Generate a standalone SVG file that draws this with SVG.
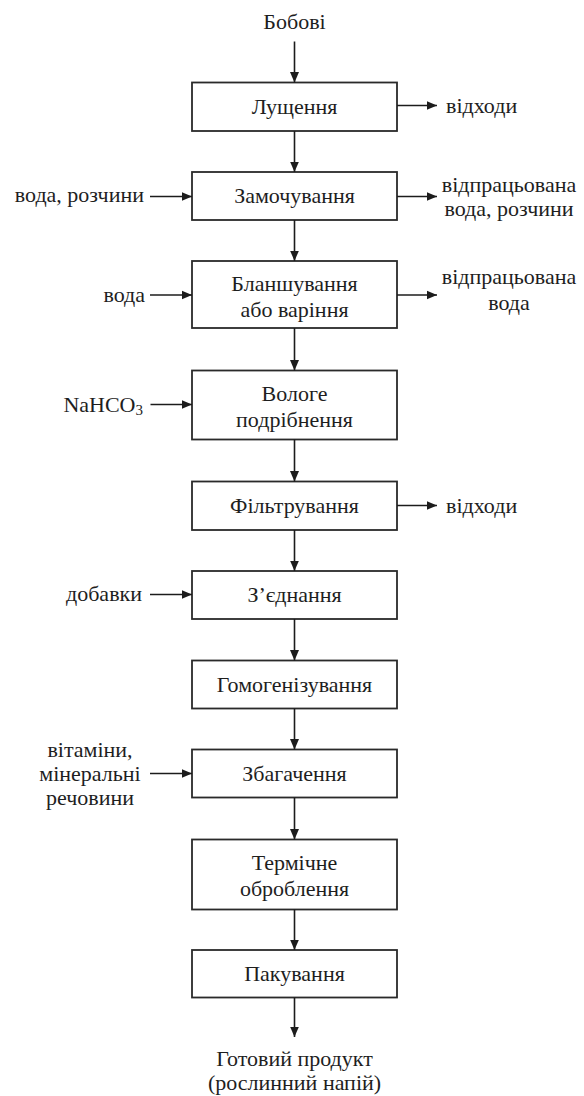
<svg xmlns="http://www.w3.org/2000/svg" width="584" height="1096" viewBox="0 0 584 1096">
  <defs>
    <marker id="arrow" markerUnits="userSpaceOnUse" markerWidth="11" markerHeight="10" refX="10.5" refY="5" orient="auto">
      <path d="M0,0.5 L10.5,5 L0,9.5 z" fill="#1c1c1c"/>
    </marker>
    <style>
      .box { fill: #ffffff; stroke: #2a2a2a; stroke-width: 1.8; }
      .t { font-family: "Liberation Serif", "Times New Roman", serif; font-size: 22px; fill: #1e1e1e; }
      .c { text-anchor: middle; }
      .e { text-anchor: end; }
      .s { text-anchor: start; }
      .flow line { stroke: #1c1c1c; stroke-width: 1.6; marker-end: url(#arrow); }
    </style>
  </defs>
  <rect width="584" height="1096" fill="#ffffff"/>

  <!-- process steps -->
  <g id="step-lushchennia">
    <rect class="box" x="192" y="82.5" width="205" height="48.5"/>
    <text class="t c" x="294.5" y="113.5">Лущення</text>
  </g>
  <g id="step-zamochuvannia">
    <rect class="box" x="192" y="172" width="205" height="48"/>
    <text class="t c" x="294.5" y="203">Замочування</text>
  </g>
  <g id="step-blanshuvannia">
    <rect class="box" x="192" y="261" width="205" height="67"/>
    <text class="t c" x="294.5" y="290.5">Бланшування</text>
    <text class="t c" x="294.5" y="317">або варіння</text>
  </g>
  <g id="step-volohe">
    <rect class="box" x="192" y="370.5" width="205" height="69"/>
    <text class="t c" x="294.5" y="400.5">Вологе</text>
    <text class="t c" x="294.5" y="426.5">подрібнення</text>
  </g>
  <g id="step-filtruvannia">
    <rect class="box" x="192" y="481.5" width="205" height="48.5"/>
    <text class="t c" x="294.5" y="512.5">Фільтрування</text>
  </g>
  <g id="step-ziednannia">
    <rect class="box" x="192" y="571" width="205" height="48"/>
    <text class="t c" x="294.5" y="602">З’єднання</text>
  </g>
  <g id="step-homohenizuvannia">
    <rect class="box" x="192" y="660.5" width="205" height="48"/>
    <text class="t c" x="294.5" y="691.5">Гомогенізування</text>
  </g>
  <g id="step-zbahachennia">
    <rect class="box" x="192" y="749.5" width="205" height="48"/>
    <text class="t c" x="294.5" y="780.5">Збагачення</text>
  </g>
  <g id="step-termichne">
    <rect class="box" x="192" y="839.5" width="205" height="70"/>
    <text class="t c" x="294.5" y="870">Термічне</text>
    <text class="t c" x="294.5" y="896">оброблення</text>
  </g>
  <g id="step-pakuvannia">
    <rect class="box" x="192" y="950" width="205" height="47.5"/>
    <text class="t c" x="294.5" y="980.5">Пакування</text>
  </g>

  <!-- raw material and final product -->
  <g id="input-bobovi">
    <text class="t c" x="294.5" y="28.5">Бобові</text>
  </g>
  <g id="output-product">
    <text class="t c" x="294.5" y="1065.5">Готовий продукт</text>
    <text class="t c" x="294.5" y="1089.5">(рослинний напій)</text>
  </g>

  <!-- side inputs -->
  <g id="in-voda-rozchyny">
    <text class="t e" x="144" y="202">вода, розчини</text>
  </g>
  <g id="in-voda">
    <text class="t e" x="145" y="302">вода</text>
  </g>
  <g id="in-nahco3">
    <text class="t e" x="143" y="411.5">NaHCO<tspan font-size="15" dy="3">3</tspan></text>
  </g>
  <g id="in-dobavky">
    <text class="t e" x="142" y="601">добавки</text>
  </g>
  <g id="in-vitaminy">
    <text class="t c" x="90" y="757">вітаміни,</text>
    <text class="t c" x="90" y="781">мінеральні</text>
    <text class="t c" x="90" y="805">речовини</text>
  </g>

  <!-- side outputs -->
  <g id="out-vidkhody-1">
    <text class="t s" x="446" y="112.5">відходи</text>
  </g>
  <g id="out-vidprats-voda-rozchyny">
    <text class="t c" x="509" y="191.5">відпрацьована</text>
    <text class="t c" x="509" y="216">вода, розчини</text>
  </g>
  <g id="out-vidprats-voda">
    <text class="t c" x="509" y="284">відпрацьована</text>
    <text class="t c" x="509" y="310">вода</text>
  </g>
  <g id="out-vidkhody-2">
    <text class="t s" x="446" y="512.5">відходи</text>
  </g>

  <!-- connectors -->
  <g id="connectors" class="flow">
    <line x1="294.5" y1="41.5" x2="294.5" y2="82.5"/>
    <line x1="294.5" y1="131" x2="294.5" y2="172"/>
    <line x1="294.5" y1="220" x2="294.5" y2="261"/>
    <line x1="294.5" y1="328" x2="294.5" y2="370.5"/>
    <line x1="294.5" y1="439.5" x2="294.5" y2="481.5"/>
    <line x1="294.5" y1="530" x2="294.5" y2="571"/>
    <line x1="294.5" y1="619" x2="294.5" y2="660.5"/>
    <line x1="294.5" y1="708.5" x2="294.5" y2="749.5"/>
    <line x1="294.5" y1="797.5" x2="294.5" y2="839.5"/>
    <line x1="294.5" y1="909.5" x2="294.5" y2="950"/>
    <line x1="294.5" y1="997.5" x2="294.5" y2="1037"/>

    <line x1="150" y1="196.5" x2="192" y2="196.5"/>
    <line x1="150" y1="295" x2="192" y2="295"/>
    <line x1="150.5" y1="404.5" x2="192" y2="404.5"/>
    <line x1="150" y1="594.5" x2="192" y2="594.5"/>
    <line x1="150" y1="773.5" x2="192" y2="773.5"/>

    <line x1="397" y1="105.5" x2="437" y2="105.5"/>
    <line x1="397" y1="196.5" x2="437" y2="196.5"/>
    <line x1="397" y1="295" x2="437" y2="295"/>
    <line x1="397" y1="505.5" x2="437" y2="505.5"/>
  </g>
</svg>
